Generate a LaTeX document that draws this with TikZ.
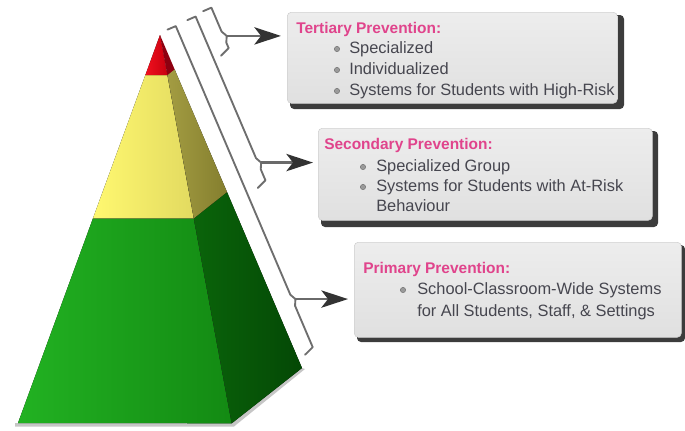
\documentclass[tikz,border=0pt]{standalone}
\usepackage{fontspec}
\setmainfont{Liberation Sans}
\usetikzlibrary{calc,arrows.meta}
\definecolor{titlepink}{HTML}{E0448C}
\definecolor{bodytext}{HTML}{46464F}
\definecolor{bracketgray}{HTML}{6E6E6E}
\definecolor{shaftgray}{HTML}{6A6A6A}
\definecolor{headgray}{HTML}{333333}
\definecolor{panelTop}{HTML}{EDEDED}
\definecolor{panelBot}{HTML}{E0E0E0}
\definecolor{panelEdge}{HTML}{D0D0D0}
\definecolor{shadowgray}{HTML}{3C3C3C}
\definecolor{dotgray}{HTML}{9A9A9A}
\definecolor{dotedge}{HTML}{6A6A6A}
\definecolor{redF1}{HTML}{F0101E}
\definecolor{redF2}{HTML}{C8000F}
\definecolor{redS}{HTML}{8E0010}
\definecolor{yelF1}{HTML}{FFF870}
\definecolor{yelF2}{HTML}{E2DA60}
\definecolor{yelS1}{HTML}{A39C42}
\definecolor{yelS2}{HTML}{847E2E}
\definecolor{grnF1}{HTML}{22B222}
\definecolor{grnF2}{HTML}{138A13}
\definecolor{grnS1}{HTML}{0A640A}
\definecolor{grnS2}{HTML}{044805}
\begin{document}
\begin{tikzpicture}[x=0.75pt,y=-0.75pt,
  bracketline/.style={draw=bracketgray, line width=1.4pt, line join=round, line cap=round},
  pointer/.style={draw=shaftgray, line width=1.6pt,
    -{Stealth[length=20pt,width=13pt,inset=5pt,color=headgray,fill=headgray]}},
  panel/.style={rectangle, rounded corners=3pt, top color=panelTop, bottom color=panelBot,
    draw=panelEdge, line width=0.4pt, inner sep=0pt, anchor=north west},
  panelshadow/.style={fill=shadowgray, rounded corners=3pt},
  title/.style={font=\bfseries\fontsize{11.6}{14}\selectfont, text=titlepink, inner sep=0pt, anchor=base west},
  item/.style={font=\fontsize{12.3}{15}\selectfont, text=bodytext, inner sep=0pt, anchor=base west},
  dot/.style={circle, inner sep=0pt, minimum size=4pt, fill=dotgray, draw=dotedge, line width=0.3pt}
]
\useasboundingbox (0,0) rectangle (685,430);

% ---------- pyramid ----------
\coordinate (A) at (160,35);
\coordinate (du) at (0.3923,0.9199);
\coordinate (nu) at (0.9199,-0.3923);
\coordinate (L) at (18,423);
\coordinate (F) at (231.7,423.3);
\coordinate (B) at (302,368);
\coordinate (rl) at (145.4,75);
\coordinate (rr) at (167.4,75);
\coordinate (rs) at (174.6,69.3);
\coordinate (yl) at (93,218.3);
\coordinate (yr) at (193.8,218.3);
\coordinate (ys) at (227,192);

% base shadow
\fill[gray!45] (15,423) -- (F) -- (B) -- (305,369) -- (234,426.5) -- (15,426.5) -- cycle;

\fill[left color=grnF1, right color=grnF2] (yl) -- (yr) -- (F) -- (L) -- cycle;
\fill[left color=grnS1, right color=grnS2] (yr) -- (ys) -- (B) -- (F) -- cycle;
\fill[left color=yelF1, right color=yelF2] (rl) -- (rr) -- (yr) -- (yl) -- cycle;
\fill[left color=yelS1, right color=yelS2] (rr) -- (rs) -- (ys) -- (yr) -- cycle;
\fill[left color=redF1, right color=redF2] (A) -- (rr) -- (rl) -- cycle;
\fill[redS] (A) -- (rs) -- (rr) -- cycle;

% ---------- brackets ----------
% primary (offset 18)
\coordinate (Ptop) at ($(A)-2*(du)+18*(nu)$);
\coordinate (Pa) at ($(A)+290*(du)+18*(nu)$);
\coordinate (Pcusp) at ($(A)+296*(du)+21*(nu)$);
\coordinate (Pb) at ($(A)+302*(du)+18*(nu)$);
\coordinate (Pbot) at ($(A)+347*(du)+18*(nu)$);
\draw[bracketline] ($(Ptop)-9*(nu)$) -- (Ptop) -- (Pa) -- (Pcusp) -- (Pb) -- (Pbot) -- ($(Pbot)-10*(nu)+4*(du)$);
% secondary (offset 40)
\coordinate (Stop) at ($(A)-3*(du)+40*(nu)$);
\coordinate (Sa) at ($(A)+151*(du)+40*(nu)$);
\coordinate (Scusp) at ($(A)+157*(du)+43*(nu)$);
\coordinate (Sb) at ($(A)+163*(du)+40*(nu)$);
\coordinate (Sbot) at ($(A)+175*(du)+40*(nu)$);
\draw[bracketline] ($(Stop)-9*(nu)$) -- (Stop) -- (Sa) -- (Scusp) -- (Sb) -- (Sbot) -- ($(Sbot)-10*(nu)+4*(du)$);
% tertiary (offset 58)
\coordinate (Ttop) at ($(A)-5*(du)+58*(nu)$);
\coordinate (Ta) at ($(A)+21*(du)+58*(nu)$);
\coordinate (Tcusp) at ($(A)+27*(du)+61*(nu)$);
\coordinate (Tb) at ($(A)+33*(du)+58*(nu)$);
\coordinate (Tbot) at ($(A)+39*(du)+58*(nu)$);
\draw[bracketline] ($(Ttop)-9*(nu)$) -- (Ttop) -- (Ta) -- (Tcusp) -- (Tb) -- (Tbot) -- ($(Tbot)-10*(nu)+4*(du)$);

% ---------- panels ----------
\fill[panelshadow] (290,15) rectangle (624,109);
\node (Tbox) [panel, minimum width=247.5pt, minimum height=68.25pt] at (287,12) {};
\fill[panelshadow] (321,131) rectangle (658,227);
\node (Sbox) [panel, minimum width=250.5pt, minimum height=69pt] at (318,128) {};
\fill[panelshadow] (357,245) rectangle (685,342);
\node (Pbox) [panel, minimum width=245.25pt, minimum height=71.25pt] at (354,242) {};

% ---------- arrows ----------
\draw[pointer] (Tcusp) -- ($(Tcusp -| Tbox.west)+(-6,0)$);
\draw[pointer] (Scusp) -- ($(Scusp -| Sbox.west)+(-5,0)$);
\draw[pointer] (Pcusp) -- ($(Pcusp -| Pbox.west)+(-6,0)$);

% ---------- texts ----------
\node (Tt) [title] at (296,33) {Tertiary Prevention:};
\node (Tb1) [dot] at (337,49) {};
\node (Ti1) [item] at (349,53) {Specialized};
\node (Tb2) [dot] at (337,70) {};
\node (Ti2) [item] at (349,74) {Individualized};
\node (Tb3) [dot] at (337,91) {};
\node (Ti3) [item] at (349,95) {Systems for Students with High-Risk};

\node (St) [title] at (324,149) {Secondary Prevention:};
\node (Sb1) [dot] at (363,167) {};
\node (Si1) [item] at (376,171) {Specialized Group};
\node (Sb2) [dot] at (363,187) {};
\node (Si2) [item] at (376,191) {Systems for Students with At-Risk};
\node (Si3) [item] at (376,211) {Behaviour};

\node (Pt) [title] at (363,273) {Primary Prevention:};
\node (Pb1) [dot] at (403,290) {};
\node (Pi1) [item] at (417,294) {School-Classroom-Wide Systems};
\node (Pi2) [item] at (417,316) {for All Students, Staff, \& Settings};
\end{tikzpicture}
\end{document}
